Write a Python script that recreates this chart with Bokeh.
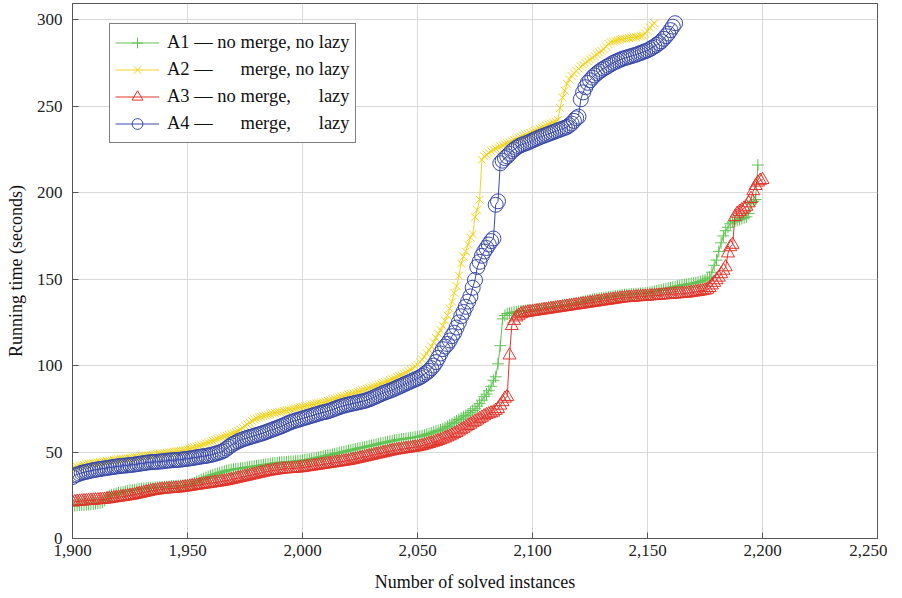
from bokeh.plotting import figure
from bokeh.models import NumeralTickFormatter, FixedTicker, Range1d
from bokeh.embed import file_html
from bokeh.resources import INLINE

# ---- data (running time in seconds, sorted, one value per solved instance) ----
start = 1900

a1_no_merge_no_lazy = [
    19, 19, 19.2, 19.3, 19.4, 19.5, 19.6, 19.7, 19.8, 20,
    20.2, 20.4, 20.6, 21, 22, 24, 24.8, 25.2, 25.6, 26,
    26.3, 26.6, 26.9, 27.2, 27.5, 27.8, 28, 28.2, 28.4, 28.6,
    28.8, 29, 29.1, 29.2, 29.3, 29.4, 29.5, 29.6, 29.7, 29.8,
    29.9, 30, 30.1, 30.2, 30.3, 30.4, 30.5, 30.6, 30.7, 30.8,
    31, 31.3, 31.7, 32.2, 32.8, 33.4, 34, 34.6, 35.2, 35.8,
    36.3, 36.8, 37.2, 37.6, 38, 38.4, 38.8, 39.2, 39.5, 39.8,
    40, 40.2, 40.4, 40.6, 40.8, 41, 41.2, 41.4, 41.6, 41.8,
    42, 42.2, 42.4, 42.6, 42.8, 43, 43.2, 43.4, 43.6, 43.8,
    44, 44.1, 44.2, 44.3, 44.4, 44.5, 44.6, 44.7, 44.8, 45,
    45.2, 45.4, 45.6, 45.8, 46, 46.3, 46.6, 46.9, 47.2, 47.5,
    47.8, 48.1, 48.4, 48.7, 49, 49.3, 49.6, 49.9, 50.2, 50.5,
    50.8, 51.1, 51.4, 51.7, 52, 52.3, 52.6, 52.9, 53.2, 53.5,
    53.8, 54.1, 54.4, 54.7, 55, 55.3, 55.6, 55.9, 56.2, 56.5,
    56.8, 57, 57.2, 57.4, 57.6, 57.8, 58, 58.2, 58.4, 58.6,
    58.8, 59.1, 59.4, 59.8, 60.2, 60.6, 61, 61.5, 62, 62.4,
    62.8, 63.4, 64, 64.8, 65.6, 66.4, 67.2, 68, 68.8, 69.6,
    70.4, 71.2, 72, 73, 74, 75, 76.5, 78, 80, 82,
    83.5, 85.5, 88, 91.5, 93.5, 101, 111.5, 127, 129, 130,
    130.3, 130.6, 130.9, 131.1, 131.3, 131.5, 131.7, 131.8, 131.9, 132,
    132.1, 132.3, 132.5, 132.7, 132.9, 133.1, 133.3, 133.5, 133.7, 133.9,
    134.1, 134.3, 134.5, 134.7, 134.9, 135.1, 135.3, 135.5, 135.8, 136.1,
    136.4, 136.7, 137, 137.3, 137.6, 137.9, 138.2, 138.4, 138.6, 138.8,
    139, 139.2, 139.4, 139.6, 139.8, 140, 140.2, 140.4, 140.6, 140.8,
    141, 141.1, 141.2, 141.3, 141.4, 141.5, 141.6, 141.7, 141.8, 141.9,
    142, 142.3, 142.6, 142.9, 143.2, 143.5, 143.8, 144.1, 144.4, 144.7,
    145, 145.3, 145.6, 145.9, 146.2, 146.5, 146.8, 147, 147.2, 147.4,
    147.6, 147.9, 148.2, 148.6, 149, 149.5, 150.2, 151.2, 154, 158,
    161, 166, 171, 175, 178, 180, 182, 183, 183.5, 184,
    184.5, 185, 185.5, 186, 188, 193.6, 195, 196, 216,
]

a2_merge_no_lazy = [
    40.5, 41, 41.5, 42, 42.3, 42.6, 43, 43.2, 43.4, 43.6,
    43.8, 44, 44.2, 44.4, 44.6, 44.8, 45, 45.2, 45.4, 45.6,
    45.8, 46, 46.1, 46.2, 46.4, 46.6, 46.8, 47, 47.2, 47.4,
    47.6, 47.8, 48, 48.1, 48.2, 48.4, 48.6, 48.8, 49, 49.2,
    49.4, 49.6, 49.8, 50, 50.2, 50.4, 50.6, 50.8, 51, 51.3,
    51.6, 52, 52.4, 52.8, 53.2, 53.6, 54, 54.5, 55, 55.5,
    56, 56.5, 57, 57.5, 58, 58.5, 59, 59.5, 60, 60.5,
    61, 61.5, 62.2, 63, 64, 65, 66, 67, 68, 68.8,
    69.5, 70, 70.4, 70.8, 71.2, 71.6, 72, 72.3, 72.6, 72.9,
    73.2, 73.5, 73.8, 74.1, 74.4, 74.7, 75, 75.3, 75.6, 75.9,
    76.2, 76.5, 76.8, 77.1, 77.4, 77.7, 78, 78.3, 78.6, 78.9,
    79.2, 79.6, 80, 80.4, 80.8, 81.2, 81.6, 82, 82.4, 82.8,
    83.2, 83.6, 84, 84.4, 84.8, 85.2, 85.6, 86, 86.5, 87,
    87.5, 88, 88.5, 89, 89.5, 90, 90.5, 91, 91.6, 92.2,
    92.8, 93.4, 94, 94.6, 95.3, 96, 96.8, 97.6, 98.5, 99.5,
    100.5, 102, 103.5, 105, 107, 109, 111, 113.5, 116, 118.5,
    120.5, 123, 126, 129, 133, 137, 142, 146, 152, 159,
    163, 166, 170, 174, 176, 186, 190, 196, 219, 221,
    222, 223, 224, 224.8, 225.5, 226.2, 226.8, 227.4, 228, 228.6,
    229.2, 229.8, 230.4, 231, 231.6, 232.2, 232.8, 233.4, 234, 234.6,
    235.2, 235.8, 236.4, 237, 237.6, 238.2, 238.8, 239.4, 240, 240.6,
    241.2, 242, 249, 255, 259, 263, 265.5, 267.5, 269, 270.5,
    271.8, 273, 274, 275, 276, 277, 278, 279, 280, 281,
    282, 283, 284.5, 286, 287, 287.4, 287.8, 288.2, 288.5, 288.8,
    289, 289.2, 289.4, 289.6, 289.8, 290, 290.3, 290.6, 291, 292,
    293.5, 295.5, 297, 298,
]

a3_no_merge_lazy = [
    21, 21.2, 21.4, 21.5, 21.6, 21.7, 21.8, 21.9, 22, 22.1,
    22.2, 22.3, 22.4, 22.5, 22.6, 22.8, 23, 23.2, 23.4, 23.6,
    23.8, 24, 24.2, 24.4, 24.6, 24.8, 25, 25.3, 25.6, 25.9,
    26.2, 26.5, 26.8, 27.1, 27.4, 27.6, 27.8, 28, 28.2, 28.4,
    28.5, 28.6, 28.7, 28.8, 28.9, 29, 29.1, 29.3, 29.5, 29.7,
    29.9, 30.1, 30.3, 30.5, 30.7, 30.9, 31.1, 31.3, 31.5, 31.7,
    31.9, 32.1, 32.3, 32.5, 32.7, 32.9, 33.1, 33.4, 33.7, 34,
    34.3, 34.6, 34.9, 35.2, 35.5, 35.8, 36.1, 36.4, 36.7, 37,
    37.3, 37.6, 37.9, 38.2, 38.5, 38.8, 39, 39.2, 39.4, 39.6,
    39.8, 40, 40.1, 40.2, 40.3, 40.4, 40.5, 40.6, 40.7, 40.8,
    41, 41.2, 41.4, 41.6, 41.8, 42, 42.2, 42.4, 42.6, 42.8,
    43, 43.2, 43.4, 43.6, 43.8, 44, 44.2, 44.4, 44.6, 44.8,
    45, 45.3, 45.6, 45.9, 46.2, 46.5, 46.8, 47.1, 47.4, 47.7,
    48, 48.3, 48.6, 48.9, 49.2, 49.5, 49.8, 50.1, 50.4, 50.7,
    51, 51.2, 51.4, 51.6, 51.8, 52, 52.2, 52.4, 52.6, 52.8,
    53, 53.3, 53.6, 54, 54.4, 54.8, 55.2, 55.6, 56, 56.5,
    57, 57.5, 58, 58.6, 59.2, 59.8, 60.5, 61.2, 62, 62.8,
    63.6, 64.4, 65.2, 66, 66.8, 67.6, 68.4, 69.2, 70, 70.8,
    71.5, 72, 72.5, 73, 74, 75, 77, 79, 81, 82,
    106, 123, 126, 128, 129, 129.8, 130.3, 130.6, 130.8, 131,
    131.2, 131.4, 131.6, 131.8, 132, 132.2, 132.4, 132.6, 132.8, 133,
    133.2, 133.4, 133.6, 133.8, 134, 134.2, 134.4, 134.6, 134.8, 135,
    135.2, 135.4, 135.6, 135.8, 136, 136.2, 136.4, 136.6, 136.8, 137,
    137.2, 137.4, 137.6, 137.8, 138, 138.2, 138.4, 138.6, 138.8, 139,
    139.1, 139.2, 139.3, 139.4, 139.5, 139.6, 139.7, 139.8, 139.9, 140,
    140.1, 140.2, 140.3, 140.4, 140.5, 140.6, 140.7, 140.8, 140.9, 141,
    141.1, 141.2, 141.3, 141.4, 141.5, 141.6, 141.7, 141.8, 142, 142.2,
    142.4, 142.6, 142.8, 143, 143.2, 143.5, 144, 145, 146.5, 148,
    149.5, 151, 153, 155, 157, 165, 168.6, 170, 186, 188,
    189, 190, 191, 192, 194, 196.5, 201, 204, 206, 207,
    207.5,
]

a4_merge_lazy = [
    35.5, 36.5, 37, 37.5, 38, 38.3, 38.6, 38.9, 39.2, 39.5,
    39.7, 40, 40.2, 40.4, 40.6, 40.8, 41, 41.2, 41.4, 41.6,
    41.8, 42, 42.1, 42.2, 42.3, 42.5, 42.6, 42.8, 43, 43.2,
    43.4, 43.6, 43.8, 44, 44.1, 44.2, 44.3, 44.4, 44.5, 44.6,
    44.8, 45, 45.1, 45.2, 45.3, 45.4, 45.5, 45.6, 45.8, 46,
    46.1, 46.3, 46.5, 46.7, 47, 47.2, 47.4, 47.6, 47.8, 48,
    48.3, 48.6, 49, 49.4, 49.8, 50.3, 51, 52, 53, 54,
    54.8, 55.5, 56.2, 56.8, 57.3, 57.8, 58.2, 58.6, 59, 59.4,
    59.8, 60.2, 60.6, 61, 61.5, 62, 62.5, 63, 63.5, 64,
    64.5, 65, 65.6, 66.2, 66.8, 67.3, 67.8, 68.2, 68.6, 69,
    69.4, 69.8, 70.2, 70.6, 71, 71.4, 71.8, 72.2, 72.6, 73,
    73.2, 73.6, 74, 74.5, 75, 75.5, 76, 76.4, 76.8, 77.2,
    77.5, 77.8, 78.1, 78.4, 78.7, 79, 79.3, 79.6, 80, 80.5,
    81, 81.6, 82.2, 82.8, 83.4, 84, 84.5, 85, 85.5, 86,
    86.6, 87.2, 87.8, 88.4, 89, 89.6, 90.2, 90.8, 91.4, 92,
    92.5, 93.2, 94, 95, 96, 97, 98.5, 100, 102, 104.5,
    107, 109.5, 111, 112.5, 114.5, 117, 119, 122, 125, 128.5,
    131, 134, 137, 140, 145, 149.5, 157, 160, 163.5, 166,
    168, 170, 172, 173.5, 193, 195, 217, 218.5, 220, 221,
    222.5, 224, 225, 226, 226.8, 227.5, 228, 228.5, 229, 229.6,
    230.2, 230.8, 231.4, 232, 232.5, 233, 233.5, 234, 234.5, 235,
    235.5, 236, 236.5, 237, 237.5, 238, 239, 240, 241.5, 243,
    244, 254, 258, 261, 263.5, 265, 266.5, 267.8, 269, 270,
    271, 271.8, 272.6, 273.4, 274.2, 275, 275.6, 276.2, 276.8, 277.4,
    277.8, 278.2, 278.6, 279, 279.4, 279.8, 280.3, 280.8, 281.3, 281.8,
    282.3, 283, 283.8, 284.6, 285.5, 286.5, 287.5, 289, 290.5, 292,
    294, 296, 298,
]

x_ticks = [1900, 1950, 2000, 2050, 2100, 2150, 2200, 2250]
y_ticks = [0, 50, 100, 150, 200, 250, 300]

labels = [
    "A1 \u2014 no merge, no lazy",
    "A2 \u2014 \u2002\u2002 merge, no lazy",
    "A3 \u2014 no merge, \u2002\u2002 lazy",
    "A4 \u2014 \u2002\u2002 merge, \u2002\u2002 lazy",
]
series = [a1_no_merge_no_lazy, a2_merge_no_lazy, a3_no_merge_lazy, a4_merge_lazy]
colors = ["#5fc453", "#f2d31e", "#e0352b", "#3a4aa8"]
markers = ["cross", "x", "triangle", "circle"]
sizes = [12, 11, 13, 15]

FONT = "Liberation Serif"

p = figure(
    frame_width=805, frame_height=535,
    x_range=Range1d(1900, 2250), y_range=Range1d(0, 309.4),
    output_backend="svg", toolbar_location=None,
    min_border_left=72, min_border_right=10, min_border_top=3, min_border_bottom=58,
    background_fill_color="white", border_fill_color="white",
)

for ys, lab, col, mk, sz in zip(series, labels, colors, markers, sizes):
    xs = list(range(start, start + len(ys)))
    p.line(xs, ys, line_color=col, line_width=1, legend_label=lab)
    p.scatter(xs, ys, marker=mk, size=sz, line_color=col, fill_color=None,
              line_width=1, legend_label=lab)

p.xaxis.ticker = FixedTicker(ticks=x_ticks)
p.yaxis.ticker = FixedTicker(ticks=y_ticks)
p.xaxis.formatter = NumeralTickFormatter(format="0,0")
p.xaxis.axis_label = "Number of solved instances"
p.yaxis.axis_label = "Running time (seconds)"

for ax in (p.xaxis, p.yaxis):
    ax.axis_line_color = "#555555"
    ax.axis_line_width = 1
    ax.major_tick_line_color = "#555555"
    ax.major_tick_in = 6
    ax.major_tick_out = 0
    ax.minor_tick_line_color = None
    ax.major_label_text_font = FONT
    ax.major_label_text_font_size = "17px"
    ax.major_label_text_color = "#222222"
    ax.axis_label_text_font = FONT
    ax.axis_label_text_font_size = "18px"
    ax.axis_label_text_font_style = "normal"
    ax.axis_label_text_color = "#111111"

p.xaxis.major_label_standoff = 6
p.yaxis.major_label_standoff = 10
p.xaxis.axis_label_standoff = 13
p.yaxis.axis_label_standoff = 8

p.grid.grid_line_color = "#d9d9d9"
p.grid.grid_line_width = 1
p.outline_line_color = "#555555"
p.outline_line_width = 1

lg = p.legend[0]
lg.location = (37, 395)
lg.padding = 5
lg.spacing = 0
lg.glyph_width = 44
lg.glyph_height = 27
lg.label_height = 20
lg.label_standoff = 8
lg.label_text_font = FONT
lg.label_text_font_size = "18.5px"
lg.label_text_color = "#111111"
lg.border_line_color = "black"
lg.border_line_width = 1
lg.background_fill_color = "white"
lg.background_fill_alpha = 1

open("out.html", "w").write(file_html(p, INLINE))
